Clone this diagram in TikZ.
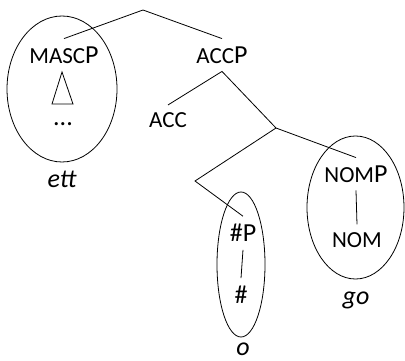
\documentclass[tikz,border=0pt]{standalone}
\usepackage{fontspec}
\setmainfont{Carlito}
\usetikzlibrary{positioning}
\newcommand{\smc}[1]{{\fontsize{23}{27}\selectfont #1}}

\begin{document}
\begin{tikzpicture}[x=1pt, y=-1pt,
  lab/.style={inner sep=0pt, outer xsep=0pt, outer ysep=8pt, font=\fontsize{26}{31}\selectfont},
  gloss/.style={inner sep=0pt, anchor=base, font=\fontsize{26}{31}\selectfont\itshape},
  edge/.style={line width=0.8pt},
  blob/.style={line width=0.8pt}]
  \useasboundingbox (0,0) rectangle (405,361);
  % branch points
  \coordinate (top) at (143,10);
  \coordinate (b1) at (276,128);
  \coordinate (b2) at (195,181);
  % labels
  \node[lab] (masc) at (64,55) {\smc{MASC}P};
  \node[lab] (dots) at (63,124) {...};
  \node[lab] (accp) at (222,55) {\smc{ACC}P};
  \node[lab] (acc) at (168,120.5) {\smc{ACC}};
  \node[lab] (nomp) at (356,174) {\smc{NOM}P};
  \node[lab] (nom) at (357,240) {\smc{NOM}};
  \node[lab] (nump) at (243,233) {\#P};
  \node[lab] (num) at (241,295) {\#};
  \node[gloss] (ett) at (62,187) {ett};
  \node[gloss] (go) at (356,304) {go};
  \node[gloss] (o) at (243,355) {o};
  % tree
  \draw[edge] (masc.north) -- (top) -- (accp.north);
  \draw[edge] (acc.north) -- (accp.south) -- (b1) -- (nomp.north);
  \draw[edge] (b1) -- (b2) -- (nump.north);
  \draw[edge] (nomp.south) -- (nom.north);
  \draw[edge] (nump.south) -- (num.north);
  \draw[edge] (62,72) -- (52,104) -- (73,104) -- cycle;
  % spell-out domains
  \draw[blob] (62,89) ellipse [x radius=55, y radius=73];
  \draw[blob] (241,264.5) ellipse [x radius=24, y radius=72.5];
  \draw[blob] (355.5,207.5) ellipse [x radius=48.5, y radius=71.5];
\end{tikzpicture}
\end{document}
